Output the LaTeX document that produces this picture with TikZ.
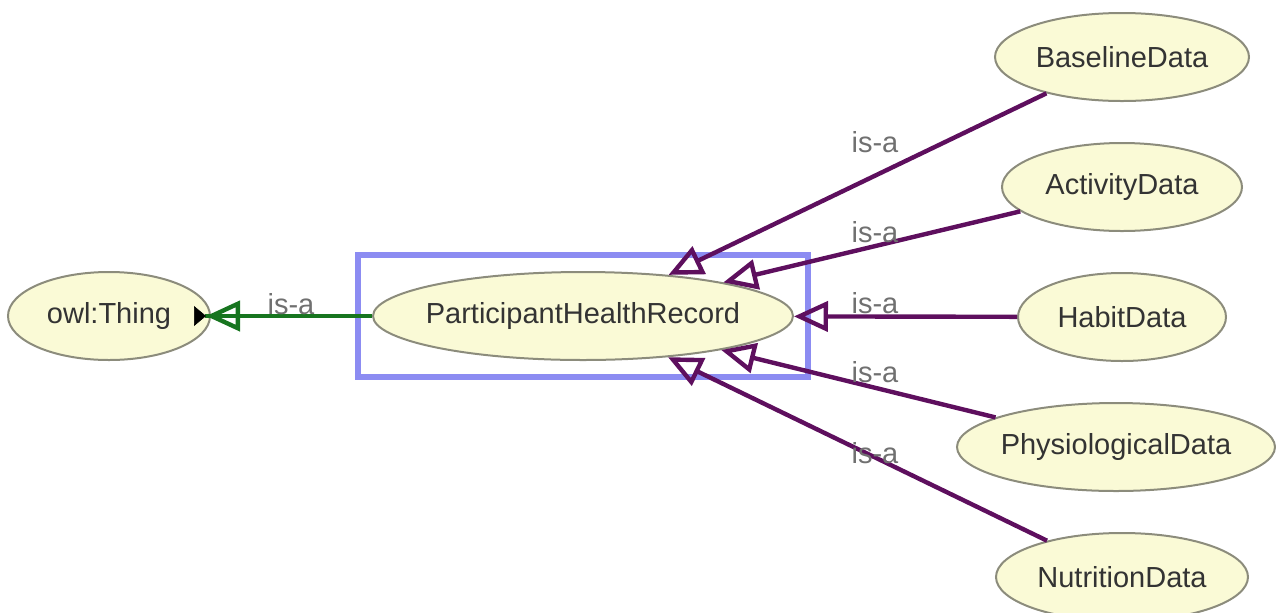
\documentclass[tikz,border=0pt]{standalone}
\usepackage{fontspec}
\setmainfont{Liberation Sans}
\usetikzlibrary{shapes.geometric,arrows.meta,positioning,fit}

\definecolor{clsfill}{HTML}{FAFAD6}
\definecolor{clsline}{HTML}{8C8C7C}
\definecolor{isapurple}{HTML}{5E0F5E}
\definecolor{isagreen}{HTML}{17751F}
\definecolor{selblue}{HTML}{8C8CF2}
\definecolor{isatext}{HTML}{707070}

\tikzset{
  cls/.style={ellipse, draw=clsline, line width=1pt, fill=clsfill, inner xsep=-20pt, inner ysep=0pt,
    minimum height=44pt, text=black!80, font=\fontsize{14.5}{17}\selectfont},
  isa/.style={-{Triangle[open, length=17pt, width=15pt]}, line width=2.2pt, draw=isapurple},
  isalabel/.style={text=isatext, inner sep=0pt, font=\fontsize{14.5}{17}\selectfont},
}

\begin{document}
\begin{tikzpicture}[x=0.5pt, y=-0.5pt]
        \useasboundingbox (0,0) rectangle (1276,612);

        % selected class and its superclass
        \node[cls, minimum width=210pt] (phr) at (583,316) {ParticipantHealthRecord};
        \node[cls, minimum width=101pt] (thing) at (109,316) {owl:Thing};

        % subclasses
        \node[cls, minimum width=127pt] (base) at (1122,57) {BaselineData};
        \node[cls, minimum width=120pt, below=20pt of base] (act) {ActivityData};
        \node[cls, minimum width=104pt, below=20pt of act] (habit) {HabitData};
        \node[cls, minimum width=159pt, below=20pt of habit, xshift=-3pt] (phys) {PhysiologicalData};
        \node[cls, minimum width=126pt, below=20pt of phys, xshift=3pt] (nutr) {NutritionData};

        % selection box
        \node[draw=selblue, line width=3pt, inner xsep=7pt, inner ysep=8pt, fit=(phr)] (sel) {};

        % is-a edges
        \draw[isa] (base) -- (phr);
        \draw[isa] (act) -- (phr);
        \draw[isa] (habit) -- (phr);
        \draw[isa] (phys) -- (phr);
        \draw[isa] (nutr) -- (phr);
        \draw[isa, draw=isagreen, shorten >=-8.5pt,
          -{Triangle[open, length=17pt, width=15pt] Triangle[reversed, color=black, fill=black, length=6pt, width=10pt, line width=0.3pt]}]
          (phr) -- (thing);

        % edge labels
        \node[isalabel] (l0) at (291,304) {is-a};
        \node[isalabel] (l1) at (875,142) {is-a};
        \node[isalabel] (l2) at (875,232) {is-a};
        \node[isalabel] (l3) at (875,303) {is-a};
        \node[isalabel] (l4) at (875,372) {is-a};
        \node[isalabel] (l5) at (875,453) {is-a};
\end{tikzpicture}
\end{document}
